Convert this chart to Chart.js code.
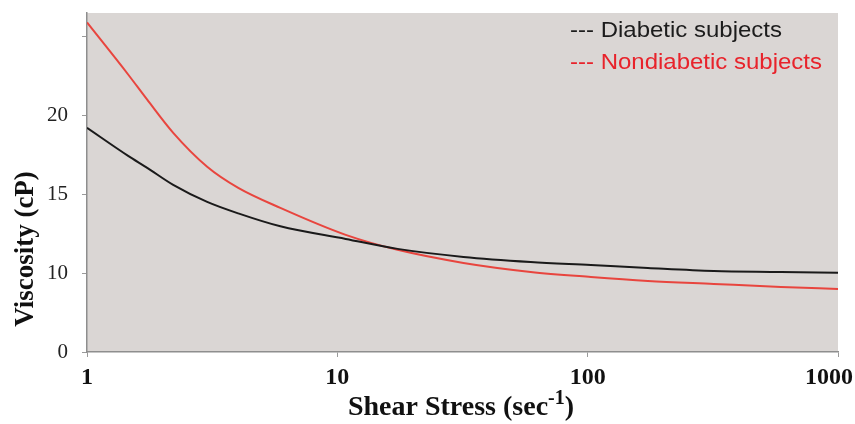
<!DOCTYPE html>
<html>
<head>
<meta charset="utf-8">
<script src="https://cdn.jsdelivr.net/npm/chart.js@4"></script>
<style>
  html, body { margin: 0; padding: 0; background: #fff; }
  #wrap { width: 855px; height: 424px; }
</style>
</head>
<body>
<div id="wrap"><canvas id="chart" width="855" height="424"></canvas></div>
<script>
// shear stress (sec^-1) read along the log axis
const shearStress = [1, 1.46, 1.74, 2.21, 3.02, 4.02, 5.92, 10.8, 17.4, 31.9, 59.2, 103, 174, 319, 592, 1000];
// viscosity (cP)
const diabetic    = [19.22, 17.44, 16.68, 15.6, 14.52, 13.79, 12.97, 12.17, 11.54, 11.03, 10.71, 10.52, 10.33, 10.14, 10.08, 10.02];
const nondiabetic = [25.9, 22.6, 21.0, 18.9, 16.75, 15.41, 14.14, 12.43, 11.48, 10.65, 10.08, 9.76, 9.51, 9.32, 9.13, 9.0];

const xTicks = [1, 10, 100, 1000];
const yTicks = [5, 10, 15, 20, 25];
// the axis is broken: the lowest tick is labelled 0
const yTickLabels = {5: '0', 10: '10', 15: '15', 20: '20', 25: ''};

const legendItems = [
  { text: '--- Diabetic subjects', color: '#1c1c1c' },
  { text: '--- Nondiabetic subjects', color: '#e8232b' }
];

const toPoints = (ys) => shearStress.map((x, i) => ({ x: x, y: ys[i] }));

// gray plot background, x tick labels, axis titles, text legend
const decorations = {
  id: 'decorations',
  beforeDraw(chart) {
    const { ctx, chartArea: a } = chart;
    ctx.save();
    ctx.fillStyle = '#dad6d4';
    ctx.fillRect(a.left, a.top, a.right - a.left, a.bottom - a.top);
    ctx.restore();
  },
  afterDraw(chart) {
    const ctx = chart.ctx;
    const xs = chart.scales.x;

    // x tick labels, kept inside the canvas at the right edge
    ctx.save();
    ctx.font = 'bold 24px "Liberation Serif"';
    ctx.fillStyle = '#111';
    ctx.textAlign = 'center';
    ctx.textBaseline = 'middle';
    xTicks.forEach((v) => {
      const t = String(v);
      const w = ctx.measureText(t).width;
      const px = Math.min(xs.getPixelForValue(v), chart.width - 2 - w / 2);
      ctx.fillText(t, px, 378);
    });
    ctx.restore();

    // y title
    ctx.save();
    ctx.translate(26, 249);
    ctx.rotate(-Math.PI / 2);
    ctx.font = 'bold 27px "Liberation Serif"';
    ctx.fillStyle = '#111';
    ctx.textAlign = 'center';
    ctx.textBaseline = 'middle';
    ctx.fillText('Viscosity (cP)', 0, 0);
    ctx.restore();

    // x title with superscript
    ctx.save();
    ctx.fillStyle = '#111';
    ctx.textBaseline = 'alphabetic';
    const main = 'Shear Stress (sec';
    const sup = '-1';
    const close = ')';
    const big = 'bold 28px "Liberation Serif"';
    const small = 'bold 20px "Liberation Serif"';
    ctx.font = big;
    const w1 = ctx.measureText(main).width;
    const w3 = ctx.measureText(close).width;
    ctx.font = small;
    const w2 = ctx.measureText(sup).width;
    let x = 461 - (w1 + w2 + w3) / 2;
    const base = 415;
    ctx.font = big;
    ctx.fillText(main, x, base);
    x += w1;
    ctx.font = small;
    ctx.fillText(sup, x, base - 11);
    x += w2;
    ctx.font = big;
    ctx.fillText(close, x, base);
    ctx.restore();

    // legend
    ctx.save();
    ctx.font = '22px "Liberation Sans"';
    ctx.textBaseline = 'alphabetic';
    const sx = 212 / ctx.measureText(legendItems[0].text).width;
    legendItems.forEach((item, i) => {
      ctx.save();
      ctx.translate(570, 37 + i * 32);
      ctx.scale(sx, 1);
      ctx.fillStyle = item.color;
      ctx.fillText(item.text, 0, 0);
      ctx.restore();
    });
    ctx.restore();
  }
};

new Chart(document.getElementById('chart').getContext('2d'), {
  type: 'line',
  data: {
    datasets: [
      {
        label: 'Diabetic subjects',
        data: toPoints(diabetic),
        borderColor: '#1a1a1a',
        borderWidth: 2,
        pointRadius: 0,
        cubicInterpolationMode: 'monotone'
      },
      {
        label: 'Nondiabetic subjects',
        data: toPoints(nondiabetic),
        borderColor: '#e8453e',
        borderWidth: 2,
        pointRadius: 0,
        cubicInterpolationMode: 'monotone'
      }
    ]
  },
  options: {
    responsive: false,
    animation: false,
    layout: { padding: { top: 13, right: 17, left: 0, bottom: 0 } },
    plugins: { legend: { display: false }, tooltip: { enabled: false } },
    scales: {
      x: {
        type: 'logarithmic',
        min: 1,
        max: 1000,
        afterBuildTicks: (scale) => { scale.ticks = xTicks.map(v => ({ value: v })); },
        afterFit: (scale) => {
          scale.height = 72;
          scale.paddingLeft = 0;
          scale.paddingRight = 0;
        },
        border: { color: '#8e8e8e', width: 1.5 },
        grid: { drawOnChartArea: false, drawTicks: true, tickLength: 5, color: '#9a9a9a' },
        ticks: {
          autoSkip: false,
          maxRotation: 0,
          padding: 9,
          font: { family: 'Liberation Serif', size: 24, weight: 'bold' },
          callback: () => ''
        }
      },
      y: {
        type: 'linear',
        min: 5,
        max: 26.5,
        afterBuildTicks: (scale) => { scale.ticks = yTicks.map(v => ({ value: v })); },
        afterFit: (scale) => {
          scale.width = 87;
          scale.paddingTop = 0;
          scale.paddingBottom = 0;
        },
        border: { color: '#8e8e8e', width: 1.5 },
        grid: { drawOnChartArea: false, drawTicks: true, tickLength: 5, color: '#9a9a9a' },
        ticks: {
          padding: 14,
          color: '#222',
          font: { family: 'Liberation Serif', size: 21 },
          callback: (v) => yTickLabels[v]
        }
      }
    }
  },
  plugins: [decorations]
});
</script>
</body>
</html>
